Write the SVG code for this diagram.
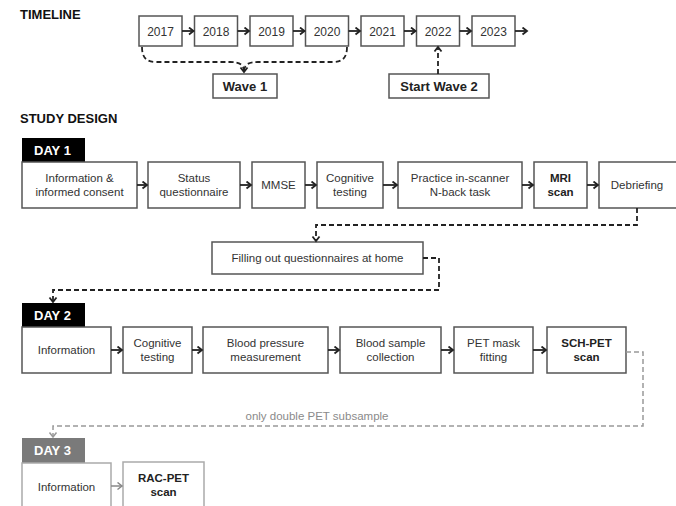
<svg xmlns="http://www.w3.org/2000/svg" width="676" height="506" viewBox="0 0 676 506">
<defs>
<style>
text{font-family:"Liberation Sans",Arial,sans-serif;fill:#333;text-anchor:middle}
.box{fill:#fff;stroke:#555;stroke-width:1.5}
.gbox{fill:#fff;stroke:#aaa;stroke-width:1.5}
.t{font-size:11.5px}
.b{font-size:11.5px;font-weight:bold;fill:#222}
.yr{font-size:12px}
.h{font-size:13px;font-weight:bold;fill:#111;text-anchor:start}
.tab{font-size:13px;font-weight:bold;fill:#fff;text-anchor:start}
.w{font-size:13px;font-weight:bold;fill:#222}
.arr{fill:none;stroke:#222;stroke-width:1.8;marker-end:url(#ah)}
.garr{fill:none;stroke:#888;stroke-width:1.5;marker-end:url(#gah)}
.dash{fill:none;stroke:#222;stroke-width:1.8;stroke-dasharray:5 3}
.gdash{fill:none;stroke:#999;stroke-width:1.5;stroke-dasharray:5 3}
.lbl{font-size:11.5px;fill:#8a8a8a}
</style>
<marker id="ah" markerUnits="userSpaceOnUse" markerWidth="10" markerHeight="10" refX="6" refY="4" orient="auto"><path d="M1.5,0.5 L6,4 L1.5,7.5" fill="none" stroke="#222" stroke-width="1.8"/></marker>
<marker id="gah" markerUnits="userSpaceOnUse" markerWidth="10" markerHeight="10" refX="6" refY="4" orient="auto"><path d="M1.5,0.5 L6,4 L1.5,7.5" fill="none" stroke="#888" stroke-width="1.5"/></marker>
</defs>

<text class="h" x="20" y="19">TIMELINE</text>
<text class="h" x="20" y="123">STUDY DESIGN</text>

<g id="y2017"><rect class="box" x="139" y="16" width="43" height="30"/><text class="yr" x="160.5" y="35.5">2017</text></g>
<g id="y2018"><rect class="box" x="194.5" y="16" width="43" height="30"/><text class="yr" x="216" y="35.5">2018</text></g>
<g id="y2019"><rect class="box" x="250" y="16" width="43" height="30"/><text class="yr" x="271.5" y="35.5">2019</text></g>
<g id="y2020"><rect class="box" x="305.5" y="16" width="43" height="30"/><text class="yr" x="327" y="35.5">2020</text></g>
<g id="y2021"><rect class="box" x="361" y="16" width="43" height="30"/><text class="yr" x="382.5" y="35.5">2021</text></g>
<g id="y2022"><rect class="box" x="416.5" y="16" width="43" height="30"/><text class="yr" x="438" y="35.5">2022</text></g>
<g id="y2023"><rect class="box" x="472" y="16" width="43" height="30"/><text class="yr" x="493.5" y="35.5">2023</text></g>
<g id="wave1"><rect class="box" x="213" y="74" width="64" height="24"/><text class="w" x="245" y="90.5">Wave 1</text></g>
<g id="wave2"><rect class="box" x="389" y="74" width="100" height="24"/><text class="w" x="439" y="90.5">Start Wave 2</text></g>

<g id="day1tab"><rect x="22" y="138" width="63" height="24" fill="#000"/><text class="tab" x="34" y="155">DAY 1</text></g>
<g id="d1info"><rect class="box" x="22" y="162" width="115" height="46"/><text class="t" x="79.5" y="182">Information &amp;</text><text class="t" x="79.5" y="196">informed consent</text></g>
<g id="d1status"><rect class="box" x="148" y="162" width="92" height="46"/><text class="t" x="194" y="182">Status</text><text class="t" x="194" y="196">questionnaire</text></g>
<g id="d1mmse"><rect class="box" x="252" y="162" width="53" height="46"/><text class="t" x="278.5" y="189">MMSE</text></g>
<g id="d1cog"><rect class="box" x="317" y="162" width="66" height="46"/><text class="t" x="350" y="182">Cognitive</text><text class="t" x="350" y="196">testing</text></g>
<g id="d1prac"><rect class="box" x="398" y="162" width="124" height="46"/><text class="t" x="460" y="182">Practice in-scanner</text><text class="t" x="460" y="196">N-back task</text></g>
<g id="d1mri"><rect class="box" x="534" y="162" width="53" height="46"/><text class="b" x="560.5" y="182">MRI</text><text class="b" x="560.5" y="196">scan</text></g>
<g id="d1debrief"><rect class="box" x="599" y="162" width="82" height="46"/><text class="t" x="637" y="189">Debriefing</text></g>
<g id="home"><rect class="box" x="212" y="242" width="211" height="32"/><text class="t" x="317.5" y="262">Filling out questionnaires at home</text></g>

<g id="day2tab"><rect x="22" y="303" width="63" height="24" fill="#000"/><text class="tab" x="34" y="320">DAY 2</text></g>
<g id="d2info"><rect class="box" x="22" y="327" width="89" height="46"/><text class="t" x="66.5" y="354">Information</text></g>
<g id="d2cog"><rect class="box" x="123" y="327" width="69" height="46"/><text class="t" x="157.5" y="347">Cognitive</text><text class="t" x="157.5" y="361">testing</text></g>
<g id="d2bp"><rect class="box" x="203" y="327" width="125" height="46"/><text class="t" x="265.5" y="347">Blood pressure</text><text class="t" x="265.5" y="361">measurement</text></g>
<g id="d2blood"><rect class="box" x="340" y="327" width="101" height="46"/><text class="t" x="390.5" y="347">Blood sample</text><text class="t" x="390.5" y="361">collection</text></g>
<g id="d2mask"><rect class="box" x="454" y="327" width="79" height="46"/><text class="t" x="493.5" y="347">PET mask</text><text class="t" x="493.5" y="361">fitting</text></g>
<g id="d2sch"><rect class="box" x="547" y="327" width="79" height="46"/><text class="b" x="586.5" y="347">SCH-PET</text><text class="b" x="586.5" y="361">scan</text></g>

<g id="day3tab"><rect x="22" y="438" width="63" height="25" fill="#7a7a7a"/><text class="tab" x="34" y="455">DAY 3</text></g>
<g id="d3info"><rect class="gbox" x="22" y="463" width="89" height="60"/><text class="t" x="66.5" y="491">Information</text></g>
<g id="d3rac"><rect class="gbox" x="123" y="462" width="81" height="60"/><text class="b" x="163.5" y="482">RAC-PET</text><text class="b" x="163.5" y="496">scan</text></g>

<g id="connectors">
<path class="arr" d="M182,31 H193.5"/>
<path class="arr" d="M237.5,31 H249"/>
<path class="arr" d="M293,31 H304.5"/>
<path class="arr" d="M348.5,31 H360"/>
<path class="arr" d="M404,31 H415.5"/>
<path class="arr" d="M459.5,31 H471"/>
<path class="arr" d="M515,31 H527"/>
<path class="dash" d="M142,47 C142,57 146,62 156,62 L230,62 C239,62 244,64 244,72"/>
<path class="dash" d="M347,47 C347,57 343,62 333,62 L258,62 C249,62 244,64 244,72"/>
<path d="M240.5,67.5 L244,72 L247.5,67.5" fill="none" stroke="#222" stroke-width="1.8"/>
<path class="dash" d="M438,74 V47"/>
<path d="M434.5,51.5 L438,47 L441.5,51.5" fill="none" stroke="#222" stroke-width="1.8"/>

<path class="arr" d="M137,185 H147"/>
<path class="arr" d="M240,185 H251"/>
<path class="arr" d="M305,185 H316"/>
<path class="arr" d="M383,185 H397"/>
<path class="arr" d="M522,185 H533"/>
<path class="arr" d="M587,185 H598"/>
<path class="dash" d="M637,208 V225 H316 V241"/>
<path d="M312.5,236.5 L316,241 L319.5,236.5" fill="none" stroke="#222" stroke-width="1.8"/>
<path class="dash" d="M423,258 H439 V290 H53 V302"/>
<path d="M49.5,297.5 L53,302 L56.5,297.5" fill="none" stroke="#222" stroke-width="1.8"/>

<path class="arr" d="M111,350 H122"/>
<path class="arr" d="M192,350 H202"/>
<path class="arr" d="M328,350 H339"/>
<path class="arr" d="M441,350 H453"/>
<path class="arr" d="M533,350 H546"/>
<path class="gdash" d="M626,352 H643 V426 H53 V437"/>
<path d="M49.5,432.5 L53,437 L56.5,432.5" fill="none" stroke="#999" stroke-width="1.5"/>
<text class="lbl" x="317" y="420">only double PET subsample</text>
<path class="garr" d="M111,486 H122"/>
</g>
</svg>
